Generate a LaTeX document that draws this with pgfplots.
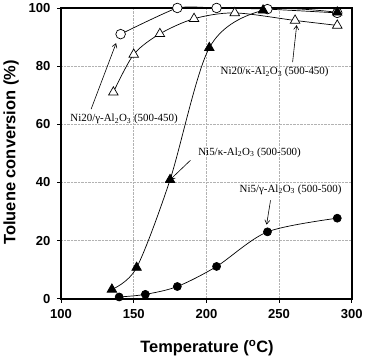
\documentclass[border=0pt]{standalone}
\usepackage{fontspec}
\setmainfont{Liberation Serif}
\newfontfamily\arial{Liberation Sans}
\usepackage{pgfplots}
\pgfplotsset{compat=1.18}
\usetikzlibrary{arrows.meta}
\begin{document}
\begin{tikzpicture}
\begin{axis}[
  scale only axis, width=290pt, height=290pt,
  xmin=100, xmax=300, ymin=0, ymax=100,
  xtick={100,150,...,300}, ytick={0,20,...,100},
  tick align=outside, major tick length=4pt,
  tick style={black, line width=0.8pt},
  xtick pos=bottom, ytick pos=left,
  axis line style={line width=1.6pt},
  grid=major, grid style={densely dotted, gray!60, line width=0.5pt},
  /pgf/number format/assume math mode=true,
  ticklabel style={font=\arial\bfseries\fontsize{13}{13}\selectfont},
  xticklabel style={yshift=-3pt},
  yticklabel style={xshift=-3pt},
  label style={font=\arial\bfseries\fontsize{16.4}{16.4}\selectfont},
  xlabel={Temperature (\textsuperscript{o}C)},
  ylabel={Toluene conversion (\%)},
  xlabel style={at={(axis description cs:0.502,-0.169)}, anchor=center},
  ylabel style={at={(axis description cs:-0.172,0.503)}, anchor=center},
  clip=false,
]
% Ni20/gamma (open circles)
\addplot[black, line width=0.7pt, smooth, tension=0.3, mark=*, mark size=4.8pt, mark options={fill=white, line width=0.7pt}]
  coordinates {(141,91) (180,100) (207,100) (242,99.6) (290,98.3)};
% Ni20/kappa (open triangles)
\addplot[black, line width=0.7pt, smooth, mark=triangle*, mark size=5.5pt, mark options={fill=white, line width=0.7pt}]
  coordinates {(136,71) (150,84) (168,91.1) (191.5,96.3) (219.5,98.3) (261,95.7) (290,94)};
% Ni5/kappa (filled triangles)
\addplot[black, line width=0.7pt, smooth, mark=triangle*, mark size=5.5pt, mark options={fill=black}]
  coordinates {(135,3.2) (152,10.7) (175,40.9) (202,86.3) (239,99.2) (290,98.5)};
% Ni5/gamma (filled circles)
\addplot[black, line width=0.7pt, smooth, mark=*, mark size=4pt, mark options={fill=black}]
  coordinates {(140,0.6) (158,1.5) (180,4.2) (207,11.1) (242,23) (290,27.7)};
% annotations
\begin{scope}[every node/.style={font=\fontsize{10.9}{11}\selectfont, inner sep=0pt}]
\node at (axis cs:143.4,61.7) {Ni20/γ-Al\textsubscript{2}O\textsubscript{3} (500-450)};
\node at (axis cs:246.9,77.9) {Ni20/κ-Al\textsubscript{2}O\textsubscript{3} (500-450)};
\node at (axis cs:229.7,50.3) {Ni5/κ-Al\textsubscript{2}O\textsubscript{3} (500-500)};
\node at (axis cs:257.9,37.6) {Ni5/γ-Al\textsubscript{2}O\textsubscript{3} (500-500)};
\end{scope}
\begin{scope}[-{Straight Barb[length=4pt,width=5pt]}, line width=0.6pt]
\draw (axis cs:120.7,65.2) -- (axis cs:137.9,87.9);
\draw (axis cs:259.3,81.4) -- (axis cs:262.1,94.1);
\draw (axis cs:189,47.6) -- (axis cs:175.2,41.0);
\draw (axis cs:244.1,33.8) -- (axis cs:241.4,25.5);
\end{scope}
\end{axis}
\end{tikzpicture}
\end{document}
